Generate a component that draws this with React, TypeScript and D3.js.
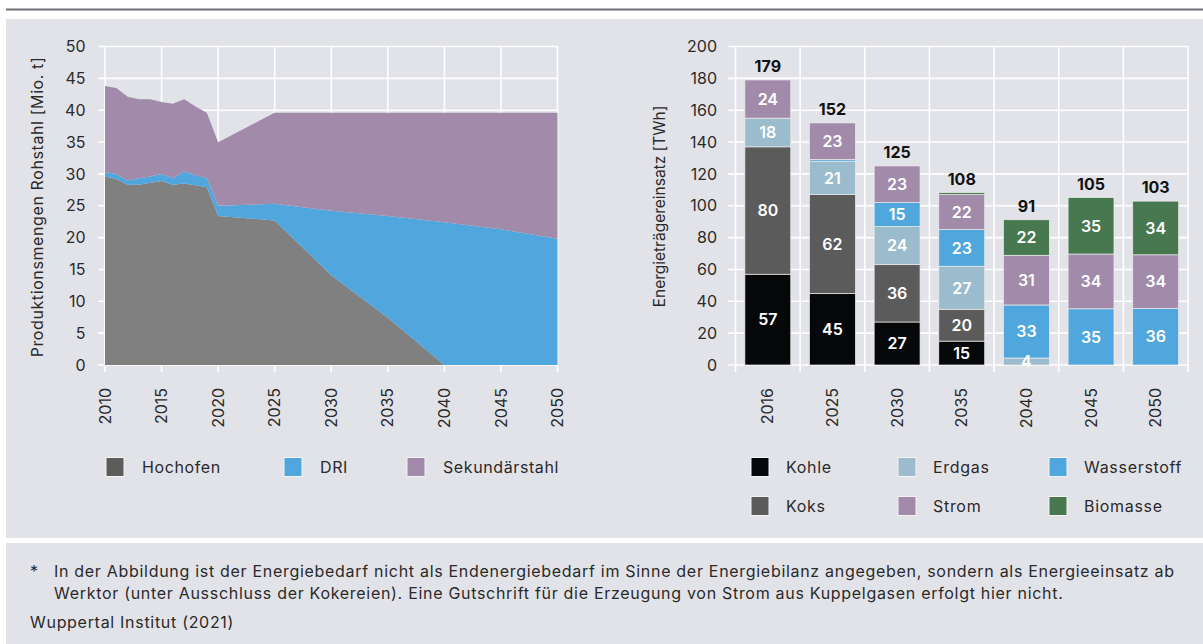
import React from "react";
import * as d3 from "d3";

// ---------- Data: left chart (Produktionsmengen Rohstahl, Mio. t) ----------
const areaYears = [2010, 2011, 2012, 2013, 2014, 2015, 2016, 2017, 2018, 2019, 2020, 2025, 2030, 2035, 2040, 2045, 2050];
const hochofen = [29.6, 29.2, 28.3, 28.3, 28.6, 28.9, 28.3, 28.5, 28.2, 27.9, 23.4, 22.7, 14.1, 7.4, 0, 0, 0];
const dri = [0.7, 0.75, 0.65, 1.0, 1.0, 1.1, 1.0, 1.9, 1.6, 1.4, 1.6, 2.6, 10.1, 16.0, 22.4, 21.3, 19.8];
const sekundaerstahl = [13.5, 13.55, 13.15, 12.4, 12.1, 11.3, 11.7, 11.3, 10.8, 10.3, 9.95, 14.3, 15.4, 16.2, 17.2, 18.3, 19.8];
const areaNames = ["Hochofen", "DRI", "Sekundärstahl"];
const leftYTicks = [0, 5, 10, 15, 20, 25, 30, 35, 40, 45, 50];
const leftXTicks = [2010, 2015, 2020, 2025, 2030, 2035, 2040, 2045, 2050];

// ---------- Data: right chart (Energieträgereinsatz, TWh) ----------
const barYears = ["2016", "2025", "2030", "2035", "2040", "2045", "2050"];
const kohle = [57, 45, 27, 15, 0, 0, 0];
const koks = [80, 62, 36, 20, 0, 0, 0];
const erdgas = [18, 21, 24, 27, 4.4, 0, 0];
const wasserstoff = [0, 1, 15, 23, 33.3, 35.3, 35.6];
const strom = [24, 23, 23, 22, 31.2, 34.4, 33.6];
const biomasse = [0, 0, 0, 1.2, 22.3, 35.4, 33.7];
const barNames = ["Kohle", "Koks", "Erdgas", "Wasserstoff", "Strom", "Biomasse"];
const rightYTicks = [0, 20, 40, 60, 80, 100, 120, 140, 160, 180, 200];

const footLine1 = "In der Abbildung ist der Energiebedarf nicht als Endenergiebedarf im Sinne der Energiebilanz angegeben, sondern als Energieeinsatz ab";
const footLine2 = "Werktor (unter Ausschluss der Kokereien). Eine Gutschrift für die Erzeugung von Strom aus Kuppelgasen erfolgt hier nicht.";
const source = "Wuppertal Institut (2021)";

// ---------- Styles ----------
const FONT = "Inter, 'DejaVu Sans', sans-serif";
const TXT = "#2a2a2a";
const PANEL = "#e2e3e8";
const areaColors: Record<string, string> = { Hochofen: "#808080", DRI: "#4fa7dd", "Sekundärstahl": "#a18aaa" };
const areaLegendColors: Record<string, string> = { Hochofen: "#5c5c5a", DRI: "#4fa7dd", "Sekundärstahl": "#a18aaa" };
const barColors: Record<string, string> = {
  Kohle: "#060709",
  Koks: "#5b5b5b",
  Erdgas: "#9bbccc",
  Wasserstoff: "#4fa7dd",
  Strom: "#a18aaa",
  Biomasse: "#47784f",
};

export default function App() {
  const W = 1203, H = 644;

  // left chart scales
  const lx = d3.scaleLinear().domain([2010, 2050]).range([105, 557.5]);
  const ly = d3.scaleLinear().domain([0, 50]).range([365, 46.5]);
  const areaRows = areaYears.map((y, i) => ({ year: y, Hochofen: hochofen[i], DRI: dri[i], "Sekundärstahl": sekundaerstahl[i] }));
  const areaStack = d3.stack<any>().keys(areaNames)(areaRows);
  const areaGen = d3.area<any>().x((d) => lx(d.data.year)).y0((d) => ly(d[0])).y1((d) => ly(d[1]));

  // right chart scales
  const bx = d3.scaleBand().domain(barYears).range([735.5, 1188]).paddingInner(0.29).paddingOuter(0.145);
  const by = d3.scaleLinear().domain([0, 200]).range([365, 46.5]);
  const barRows = barYears.map((y, i) => ({
    year: y, Kohle: kohle[i], Koks: koks[i], Erdgas: erdgas[i], Wasserstoff: wasserstoff[i], Strom: strom[i], Biomasse: biomasse[i],
  }));
  const barStack = d3.stack<any>().keys(barNames)(barRows);
  const step = bx.step();
  const bandStart = bx.range()[0] + (bx.paddingOuter() - bx.paddingInner() / 2) * step;
  const boundaries = d3.range(barYears.length + 1).map((i) => bandStart + i * step);

  const grid = { stroke: "#ffffff", strokeWidth: 1.6 };

  const leftLegend = [
    { name: "Hochofen", x: 106 },
    { name: "DRI", x: 284 },
    { name: "Sekundärstahl", x: 407 },
  ];
  const rightLegend = [
    { name: "Kohle", x: 751, row: 0 },
    { name: "Erdgas", x: 898, row: 0 },
    { name: "Wasserstoff", x: 1049, row: 0 },
    { name: "Koks", x: 751, row: 1 },
    { name: "Strom", x: 898, row: 1 },
    { name: "Biomasse", x: 1049, row: 1 },
  ];

  return (
    <svg width={W} height={H} viewBox={`0 0 ${W} ${H}`} style={{ position: "absolute", left: 0, top: 0, display: "block" }} fontFamily={FONT}>
      <rect x={0} y={0} width={W} height={H} fill="#ffffff" />
      <line x1={6} x2={W} y1={9.5} y2={9.5} stroke="#6b6f76" strokeWidth={2} />
      <rect x={6} y={19} width={W - 6} height={519} fill={PANEL} />
      <rect x={6} y={543} width={W - 6} height={H - 543} fill={PANEL} />

      {/* ---------- Left chart ---------- */}
      <g>
        {leftYTicks.map((t) => (
          <line key={"lyg" + t} x1={98} x2={lx(2050)} y1={ly(t)} y2={ly(t)} {...grid} />
        ))}
        {leftXTicks.map((t) => (
          <line key={"lxg" + t} x1={lx(t)} x2={lx(t)} y1={ly(50)} y2={372} {...grid} />
        ))}
        {areaStack.map((s) => (
          <path key={s.key} d={areaGen(s) || ""} fill={areaColors[s.key]} />
        ))}
        {leftYTicks.map((t) => (
          <text key={"lyt" + t} x={85.5} y={ly(t)} dy="0.35em" textAnchor="end" fontSize={16} fill={TXT}>
            {t}
          </text>
        ))}
        {leftXTicks.map((t) => (
          <text key={"lxt" + t} transform={`translate(${lx(t)},388) rotate(-90)`} dy="0.35em" textAnchor="end" fontSize={16} fill={TXT}>
            {t}
          </text>
        ))}
        <text transform={`translate(37,207) rotate(-90)`} dy="0.35em" textAnchor="middle" fontSize={16} letterSpacing={0.6} fill={TXT}>
          Produktionsmengen Rohstahl [Mio. t]
        </text>
      </g>

      {/* ---------- Right chart ---------- */}
      <g>
        {rightYTicks.map((t) => (
          <line key={"ryg" + t} x1={728} x2={boundaries[boundaries.length - 1]} y1={by(t)} y2={by(t)} {...grid} />
        ))}
        {boundaries.map((b, i) => (
          <line key={"rxg" + i} x1={b} x2={b} y1={by(200)} y2={372} {...grid} />
        ))}
        {barStack.map((s) => (
          <g key={s.key}>
            {s.map((d, i) =>
              d[1] - d[0] > 0 ? (
                <rect
                  key={i}
                  x={bx(barYears[i])!}
                  y={by(d[1])}
                  width={bx.bandwidth()}
                  height={by(d[0]) - by(d[1])}
                  fill={barColors[s.key]}
                  stroke="#ececec"
                  strokeWidth={0.7}
                />
              ) : null
            )}
          </g>
        ))}
        {barStack.map((s) => (
          <g key={"l" + s.key}>
            {s.map((d, i) =>
              d[1] - d[0] >= 3 ? (
                <text
                  key={i}
                  x={bx(barYears[i])! + bx.bandwidth() / 2}
                  y={by((d[0] + d[1]) / 2)}
                  dy="0.36em"
                  textAnchor="middle"
                  fontSize={16}
                  fontWeight={600}
                  fill="#ffffff"
                >
                  {Math.round(d[1] - d[0])}
                </text>
              ) : null
            )}
          </g>
        ))}
        {barRows.map((r, i) => {
          const total = barNames.reduce((acc, k) => acc + (r as any)[k], 0);
          return (
            <text key={"tot" + i} x={bx(r.year)! + bx.bandwidth() / 2} y={by(total) - 8} textAnchor="middle" fontSize={16} fontWeight={700} fill="#111111">
              {Math.round(total)}
            </text>
          );
        })}
        {rightYTicks.map((t) => (
          <text key={"ryt" + t} x={717} y={by(t)} dy="0.35em" textAnchor="end" fontSize={16} fill={TXT}>
            {t}
          </text>
        ))}
        {barYears.map((y) => (
          <text key={"rxt" + y} transform={`translate(${bx(y)! + bx.bandwidth() / 2},388) rotate(-90)`} dy="0.35em" textAnchor="end" fontSize={16} fill={TXT}>
            {y}
          </text>
        ))}
        <text transform={`translate(660,206.5) rotate(-90)`} dy="0.35em" textAnchor="middle" fontSize={15.5} fill={TXT}>
          Energieträgereinsatz [TWh]
        </text>
      </g>

      {/* ---------- Legends ---------- */}
      {leftLegend.map((l) => (
        <g key={l.name}>
          <rect x={l.x} y={457.5} width={18} height={19} fill={areaLegendColors[l.name]} stroke="#f4f4f4" strokeWidth={1} />
          <text x={l.x + 36} y={467} dy="0.35em" fontSize={16} letterSpacing={0.6} fill={TXT}>
            {l.name}
          </text>
        </g>
      ))}
      {rightLegend.map((l) => (
        <g key={l.name}>
          <rect x={l.x} y={457.5 + l.row * 39} width={18} height={19} fill={barColors[l.name]} stroke="#f4f4f4" strokeWidth={1} />
          <text x={l.x + 35} y={467 + l.row * 39} dy="0.35em" fontSize={16} letterSpacing={0.7} fill={TXT}>
            {l.name}
          </text>
        </g>
      ))}

      {/* ---------- Footer ---------- */}
      <text x={30} y={577} fontSize={16} fill={TXT}>*</text>
      <text x={54} y={577} fontSize={16} letterSpacing={0.7} fill={TXT}>{footLine1}</text>
      <text x={54} y={599} fontSize={16} letterSpacing={0.7} fill={TXT}>{footLine2}</text>
      <text x={30} y={628} fontSize={16} letterSpacing={0.7} fill={TXT}>{source}</text>
    </svg>
  );
}
